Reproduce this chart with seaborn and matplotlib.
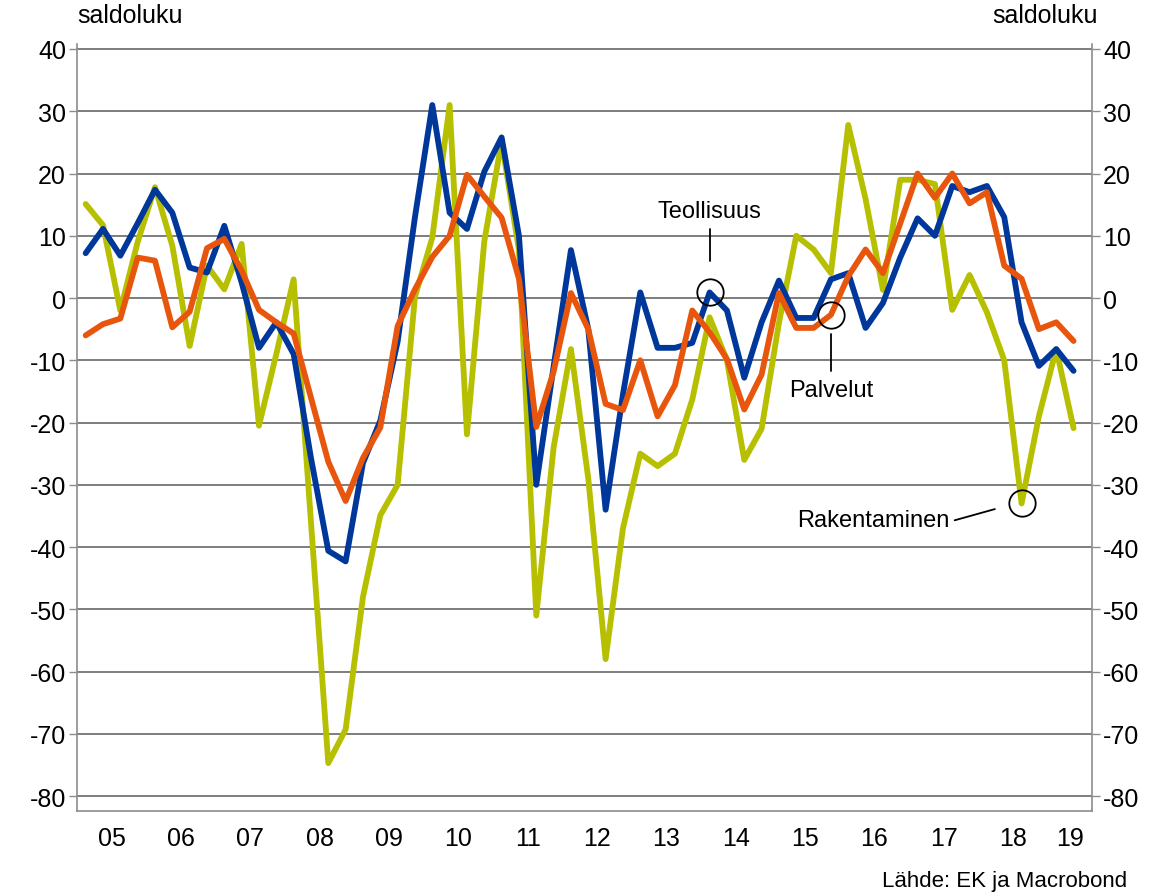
import numpy as np
import pandas as pd

import matplotlib
matplotlib.use('Agg')

import matplotlib.pyplot as plt
import seaborn as sns


# =========================================================
# DATA (quarterly saldoluku, 2005Q1 - 2019Q2)
# =========================================================

START_YEAR = 2005

teollisuus = [
    7.2, 11.1, 6.8, 12, 17.4, 13.7, 4.9, 4.1, 11.6, 2.5,
    -8, -3.9, -9, -25.7, -40.6, -42.3, -26.5, -19.7, -7, 13,
    31, 13.7, 11.1, 20.3, 25.8, 10, -30, -11, 7.7, -5,
    -34, -15.5, 0.9, -8, -8, -7.2, 0.9, -2, -12.8, -3.9,
    2.8, -3.2, -3.2, 3, 4, -4.8, -0.8, 6.5, 12.8, 10,
    18, 17, 18, 13, -3.9, -10.9, -8.2, -11.7,
]

palvelut = [
    -6, -4.2, -3.3, 6.5, 6, -4.7, -2.2, 8, 9.5, 4.4,
    -1.9, -3.9, -5.7, -16, -26.3, -32.6, -25.7, -20.8, -4.5, 1.4,
    6.6, 10, 19.8, 16.3, 12.9, 3.1, -20.7, -11.8, 0.8, -5,
    -17, -18, -10, -19, -14, -2, -5.5, -9.8, -17.9, -12.3,
    0.8, -4.8, -4.8, -2.7, 3.5, 7.8, 4, 12, 20, 16.1,
    20, 15.2, 17, 5.2, 3.1, -5, -3.9, -6.9,
]

rakentaminen = [
    15.1, 11.7, -2, 9, 17.8, 8.4, -7.7, 5.2, 1.4, 8.7,
    -20.5, -9, 3, -36, -74.7, -69.3, -48, -34.9, -30, 0.2,
    9.7, 31, -21.9, 9.1, 25.2, 7.7, -51, -24, -8.2, -29,
    -58, -37, -25, -27, -25, -16.3, -3.1, -10, -26, -21,
    -4, 10, 7.8, 4, 27.8, 15.9, 1.3, 19, 19, 18.3,
    -1.9, 3.7, -2.3, -10, -33, -19, -8.2, -20.9,
]

year_labels = ['05', '06', '07', '08', '09', '10', '11', '12',
               '13', '14', '15', '16', '17', '18', '19']

y_ticks = [40, 30, 20, 10, 0, -10, -20, -30, -40, -50, -60, -70, -80]

SERIES = {
    'Teollisuus': teollisuus,
    'Rakentaminen': rakentaminen,
    'Palvelut': palvelut,
}

COLORS = {
    'Teollisuus': '#00379A',
    'Rakentaminen': '#B7C000',
    'Palvelut': '#E8560E',
}


# =========================================================
# LONG DATAFRAME
# =========================================================

n = len(teollisuus)
x_pos = START_YEAR + (np.arange(n) + 0.5) / 4

frames = []
for name, vals in SERIES.items():
    frames.append(pd.DataFrame({'x': x_pos, 'value': vals, 'series': name}))
df = pd.concat(frames, ignore_index=True)


# =========================================================
# STYLE
# =========================================================

sns.set_theme(style="white")
plt.rcParams['font.family'] = ['Liberation Sans', 'DejaVu Sans']
plt.rcParams['text.color'] = 'black'
plt.rcParams['xtick.labelcolor'] = 'black'
plt.rcParams['ytick.labelcolor'] = 'black'

GRID = '#5a5a5a'
SPINE = '#8c8c8c'


# =========================================================
# FIGURE
# =========================================================

fig = plt.figure(figsize=(11.63, 8.95), dpi=100)
ax = fig.add_axes([0.0662, 0.0927, 0.8727, 0.857])

sns.lineplot(
    data=df,
    x='x',
    y='value',
    hue='series',
    hue_order=['Rakentaminen', 'Teollisuus', 'Palvelut'],
    palette=COLORS,
    linewidth=4.2,
    legend=False,
    ax=ax
)

X_MAX = START_YEAR + 14.64
ax.set_xlim(START_YEAR, X_MAX)
ax.set_ylim(-82.4, 40.8)

for v in y_ticks:
    ax.axhline(v, color=GRID, linewidth=1.1, zorder=0)

ax.set_yticks(y_ticks)
ax.set_yticklabels([str(v) for v in y_ticks])
ax.tick_params(axis='y', which='both', left=True, right=True,
               labelleft=True, labelright=True, direction='out',
               length=6, width=1, color=SPINE, labelsize=18, pad=2)

# year boundaries as ticks, labels centred in the visible part of each year
years = np.arange(START_YEAR, START_YEAR + len(year_labels))
label_pos = [(y + min(y + 1, X_MAX)) / 2 for y in years]
ax.set_xticks(years)
ax.set_xticklabels([])
ax.set_xticks(label_pos, minor=True)
ax.set_xticklabels(year_labels, minor=True)
ax.tick_params(axis='x', which='major', direction='out', length=12,
               width=1.2, color='#333333')
ax.tick_params(axis='x', which='minor', length=0, labelsize=18, pad=11)

ax.set_xlabel('')
ax.set_ylabel('')

for side in ['left', 'right', 'bottom', 'top']:
    ax.spines[side].set_color(SPINE)
    ax.spines[side].set_linewidth(1.2)
ax.spines['top'].set_visible(False)


# =========================================================
# ANNOTATIONS
# =========================================================

def circle(i, vals):
    ax.plot(x_pos[i], vals[i], marker='o', markersize=19,
            markerfacecolor='none', markeredgecolor='black',
            markeredgewidth=1.3, zorder=5)

# Teollisuus
i_t = 36
circle(i_t, teollisuus)
ax.plot([x_pos[i_t], x_pos[i_t]], [5.9, 11.1], color='black', lw=1.3)
ax.text(x_pos[i_t], 14, 'Teollisuus', ha='center', va='center', fontsize=17)

# Palvelut
i_p = 43
circle(i_p, palvelut)
ax.plot([x_pos[i_p], x_pos[i_p]], [-5.8, -11.7], color='black', lw=1.3)
ax.text(x_pos[i_p], -14.8, 'Palvelut', ha='center', va='center', fontsize=17)

# Rakentaminen
i_r = 54
circle(i_r, rakentaminen)
ax.plot([2017.66, 2018.24], [-35.7, -33.9], color='black', lw=1.3)
ax.text(2016.48, -35.7, 'Rakentaminen', ha='center', va='center', fontsize=17)


# =========================================================
# HEADERS AND SOURCE
# =========================================================

fig.text(130 / 1163, 1 - 16 / 895, 'saldoluku', ha='center', va='center',
         fontsize=18)
fig.text(1045 / 1163, 1 - 16 / 895, 'saldoluku', ha='center', va='center',
         fontsize=18)
fig.text(1127 / 1163, 1 - 882 / 895, 'Lähde: EK ja Macrobond', ha='right',
         va='center', fontsize=16)

fig.savefig('out.png', dpi=100)
plt.close(fig)
